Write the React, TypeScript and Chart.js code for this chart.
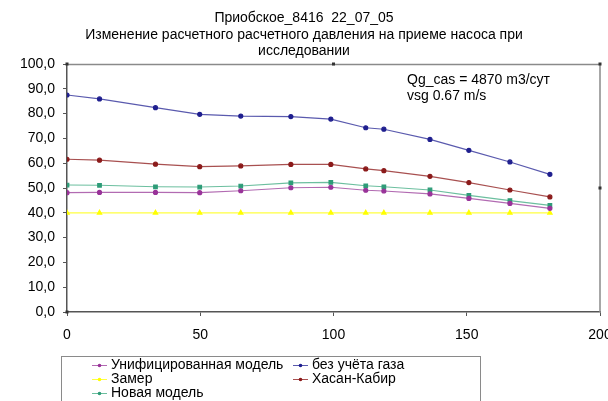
import React, { useEffect, useRef } from "react";
import { Chart, registerables } from "chart.js";

Chart.register(...registerables);

const titleLines = [
  "Приобское_8416  22_07_05",
  "Изменение расчетного расчетного давления на приеме насоса при",
  "исследовании",
];
const annotationLines = ["Qg_cas = 4870 m3/сут", "vsg 0.67 m/s"];

const xValues = [0, 12.2, 33.2, 49.8, 65.2, 84, 99, 112.1, 118.9, 136.2, 150.8, 166.2, 181.2];

const unifiedModel = [48.1, 48.2, 48.2, 48.1, 48.9, 50.1, 50.3, 49.1, 48.8, 47.6, 45.8, 43.8, 41.8];
const noGas = [87.5, 85.9, 82.4, 79.7, 79.0, 78.8, 77.8, 74.3, 73.7, 69.6, 65.2, 60.5, 55.5];
const measured = [40, 40, 40, 40, 40, 40, 40, 40, 40, 40, 40, 40, 40];
const hasanKabir = [61.6, 61.2, 59.6, 58.6, 58.9, 59.5, 59.5, 57.7, 57.0, 54.7, 52.2, 49.2, 46.4];
const newModel = [51.2, 51.1, 50.5, 50.4, 50.8, 52.1, 52.3, 50.9, 50.5, 49.2, 47.0, 44.9, 43.0];

const seriesLabels = ["Унифицированная модель", "без учёта газа", "Замер", "Хасан-Кабир", "Новая модель"];
const seriesValues = [unifiedModel, noGas, measured, hasanKabir, newModel];
const seriesColors = ["#993399", "#1f1f8f", "#ffff00", "#8b1a1a", "#2e9c78"];
const seriesLineColors = ["#b26bb2", "#5a5aae", "#ffff40", "#a85050", "#6cbf9f"];
const seriesPoints = ["circle", "circle", "triangle", "circle", "rect"];
const seriesRadius = [2, 2, 2.5, 2, 2.5];

const FONT = "'Liberation Sans', Arial, sans-serif";

const decorPlugin = {
  id: "decor",
  afterDraw(chart: any) {
    const ctx = chart.ctx;
    const a = chart.chartArea;
    ctx.save();
    // title
    ctx.fillStyle = "#000";
    ctx.font = `14px ${FONT}`;
    ctx.textAlign = "center";
    ctx.textBaseline = "middle";
    const ty = [18, 35, 51];
    titleLines.forEach((t, i) => ctx.fillText(t, 304, ty[i]));
    // plot frame (top/right)
    ctx.strokeStyle = "#8a8a8a";
    ctx.lineWidth = 1.5;
    ctx.beginPath();
    ctx.moveTo(a.left, a.top + 0.5);
    ctx.lineTo(a.right, a.top + 0.5);
    ctx.lineTo(a.right, a.bottom);
    ctx.stroke();
    // handles
    ctx.fillStyle = "#333";
    const hs = [
      [a.left, a.top],
      [(a.left + a.right) / 2, a.top],
      [a.right, a.top],
      [a.right, (a.top + a.bottom) / 2],
      [a.left, a.bottom],
    ];
    hs.forEach(([x, y]) => ctx.fillRect(x - 1.5, y - 1.5, 3, 3));
    // annotation
    ctx.fillStyle = "#000";
    ctx.textAlign = "left";
    ctx.textBaseline = "middle";
    ctx.font = `14px ${FONT}`;
    ctx.fillText(annotationLines[0], 407, 80);
    ctx.fillText(annotationLines[1], 407, 96);
    // legend
    ctx.strokeStyle = "#8a8a8a";
    ctx.lineWidth = 1;
    ctx.strokeRect(61.5, 356.5, 419, 60);
    const rowY = [365.5, 379.5, 393.5];
    const colX = [92, 293];
    chart.data.datasets.forEach((ds: any, i: number) => {
      const r = Math.floor(i / 2);
      const c = i % 2;
      const x0 = colX[c];
      const y = rowY[r];
      ctx.strokeStyle = ds.borderColor;
      ctx.lineWidth = 1;
      ctx.beginPath();
      ctx.moveTo(x0, y);
      ctx.lineTo(x0 + 15, y);
      ctx.stroke();
      ctx.fillStyle = ds.pointBackgroundColor;
      ctx.beginPath();
      ctx.arc(x0 + 7.5, y, 1.8, 0, Math.PI * 2);
      ctx.fill();
      ctx.fillStyle = "#000";
      ctx.font = `14px ${FONT}`;
      ctx.fillText(ds.label, x0 + 19, y);
    });
    ctx.restore();
  },
};

export default function App() {
  const ref = useRef<HTMLCanvasElement | null>(null);
  useEffect(() => {
    if (!ref.current) return;
    const datasets = seriesLabels.map((label, i) => ({
      label,
      data: xValues.map((x, j) => ({ x, y: seriesValues[i][j] })),
      borderColor: seriesLineColors[i],
      backgroundColor: seriesColors[i],
      pointBackgroundColor: seriesColors[i],
      pointBorderColor: seriesColors[i],
      pointStyle: seriesPoints[i],
      pointRadius: seriesRadius[i],
      borderWidth: 1.2,
      tension: 0,
    }));
    const chart = new Chart(ref.current, {
      type: "line",
      data: { datasets },
      options: {
        responsive: false,
        animation: false,
        layout: { padding: { top: 64, right: 8, left: 0, bottom: 0 } },
        plugins: { legend: { display: false }, title: { display: false }, tooltip: { enabled: false } },
        scales: {
          x: {
            type: "linear",
            min: 0,
            max: 200,
            ticks: {
              stepSize: 50,
              color: "#000",
              font: { family: FONT, size: 14 },
              padding: 11,
              maxRotation: 0,
            },
            grid: { drawOnChartArea: false, drawTicks: true, tickLength: 4, color: "#555" },
            border: { display: true, color: "#555", width: 1.5 },
            afterFit(scale: any) {
              scale.height = 89;
              scale.paddingLeft = 0;
              scale.paddingRight = 0;
            },
          },
          y: {
            min: 0,
            max: 100,
            ticks: {
              stepSize: 10,
              color: "#000",
              font: { family: FONT, size: 14 },
              padding: 8,
              callback: (v: any) => Number(v).toFixed(1).replace(".", ","),
            },
            grid: { drawOnChartArea: false, drawTicks: true, tickLength: 4, color: "#555" },
            border: { display: true, color: "#555", width: 1.5 },
            afterFit(scale: any) {
              scale.width = 67;
              scale.paddingTop = 0;
              scale.paddingBottom = 0;
            },
          },
        },
      },
      plugins: [decorPlugin],
    } as any);
    return () => chart.destroy();
  }, []);
  return (
    <div style={{ position: "fixed", left: 0, top: 0, width: 608, height: 401, background: "#fff" }}>
      <canvas ref={ref} width={608} height={401} style={{ display: "block" }} />
    </div>
  );
}
